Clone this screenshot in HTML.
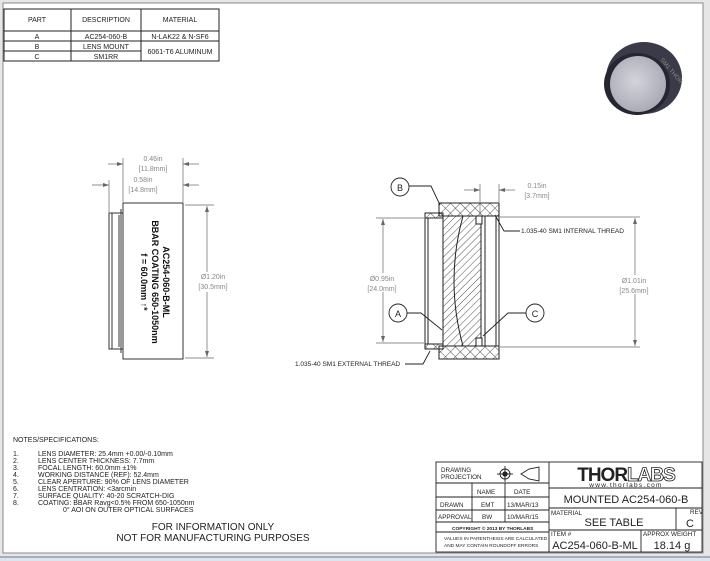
<!DOCTYPE html>
<html><head><meta charset="utf-8"><style>
html,body{margin:0;padding:0;background:#fff}
svg{display:block}
text{font-family:"Liberation Sans",sans-serif}
</style></head><body>
<svg width="710" height="561" viewBox="0 0 710 561" xmlns="http://www.w3.org/2000/svg">
<defs>
<pattern id="h" width="5" height="5" patternUnits="userSpaceOnUse" patternTransform="rotate(45)"><line x1="0" y1="0" x2="0" y2="5" stroke="#222" stroke-width="0.8"/></pattern>
<pattern id="x" width="7" height="7" patternUnits="userSpaceOnUse" patternTransform="rotate(45)"><line x1="0" y1="0" x2="0" y2="7" stroke="#222" stroke-width="0.8"/><line x1="0" y1="0" x2="7" y2="0" stroke="#222" stroke-width="0.8"/></pattern>
<radialGradient id="g" cx="0.45" cy="0.45" r="0.6"><stop offset="0" stop-color="#d4d4dc"/><stop offset="1" stop-color="#a8a8b4"/></radialGradient>
</defs>
<rect x="0" y="0" width="710" height="561" fill="#e6e6e6"/>
<rect x="3" y="3" width="700" height="550" fill="#fff" stroke="#888" stroke-width="1"/>
<rect x="0" y="556" width="710" height="5" fill="#dfe4ec"/>
<line x1="0" y1="557" x2="710" y2="557" stroke="#6a7a90"/>

<!-- parts table -->
<g stroke="#222" stroke-width="1" fill="none">
<rect x="4" y="9" width="215" height="52"/>
<line x1="4" y1="31" x2="219" y2="31"/><line x1="4" y1="41" x2="219" y2="41"/>
<line x1="4" y1="51" x2="141" y2="51"/>
<line x1="71" y1="9" x2="71" y2="61"/><line x1="141" y1="9" x2="141" y2="61"/>
</g>
<g font-size="7" fill="#222" text-anchor="middle">
<text x="37" y="22">PART</text><text x="106" y="22">DESCRIPTION</text><text x="180" y="22">MATERIAL</text>
<text x="37" y="39">A</text><text x="106" y="39">AC254-060-B</text><text x="180" y="39">N-LAK22 &amp; N-SF6</text>
<text x="37" y="49">B</text><text x="106" y="49">LENS MOUNT</text><text x="180" y="54">6061-T6 ALUMINUM</text>
<text x="37" y="59">C</text><text x="106" y="59">SM1RR</text>
</g>

<!-- iso render -->
<g>
<ellipse cx="644" cy="78" rx="38" ry="36" fill="#3a3a48"/>
<ellipse cx="637" cy="84" rx="33" ry="31" fill="#262632"/>
<ellipse cx="638" cy="84" rx="28" ry="28" fill="url(#g)"/>
<text x="660" y="60" font-size="6" fill="#888" transform="rotate(50 660 60)">SM1 THOR</text>
</g>

<!-- left side view -->
<g stroke="#333" stroke-width="1" fill="none">
<rect x="123" y="203" width="60" height="156"/>
<rect x="109" y="213" width="14" height="136"/>
<line x1="112" y1="213" x2="112" y2="349"/><line x1="119" y1="215" x2="119" y2="347"/>
<line x1="121" y1="209" x2="121" y2="353"/>
</g>
<g font-size="9" font-weight="bold" fill="#111" text-anchor="middle">
<text transform="translate(163,282) rotate(90)">AC254-060-B-ML</text>
<text transform="translate(152,282) rotate(90)">BBAR COATING 650-1050nm</text>
<text transform="translate(141,282) rotate(90)">f = 60.0mm ↑*</text>
</g>
<g stroke="#666" stroke-width="0.7" fill="none">
<line x1="123" y1="158" x2="123" y2="202"/><line x1="183" y1="158" x2="183" y2="202"/>
<line x1="109" y1="180" x2="109" y2="212"/>
<line x1="108" y1="164" x2="123" y2="164"/><line x1="183" y1="164" x2="199" y2="164"/>
<line x1="92" y1="185" x2="109" y2="185"/><line x1="183" y1="185" x2="199" y2="185"/>
<line x1="185" y1="205" x2="214" y2="205"/><line x1="185" y1="358" x2="214" y2="358"/>
<line x1="207" y1="206" x2="207" y2="272"/><line x1="207" y1="292" x2="207" y2="357"/>
</g>
<g fill="#666"><path d="M123 164 l-6 -2 v4z"/><path d="M183 164 l6 -2 v4z"/><path d="M109 185 l-6 -2 v4z"/><path d="M183 185 l6 -2 v4z"/><path d="M207 206 l-2 6 h4z"/><path d="M207 357 l-2 -6 h4z"/></g>
<g font-size="7" fill="#888" text-anchor="middle">
<text x="153" y="161">0.46in</text><text x="153" y="171">[11.8mm]</text>
<text x="143" y="182">0.58in</text><text x="143" y="192">[14.8mm]</text>
<text x="213" y="279">Ø1.20in</text><text x="213" y="289">[30.5mm]</text>
</g>

<!-- section view -->
<g stroke="#222" stroke-width="1">
<rect x="439" y="203" width="60" height="13" fill="url(#x)"/>
<rect x="439" y="346" width="60" height="13" fill="url(#x)"/>
<rect x="425" y="213" width="18" height="5" fill="url(#x)"/>
<rect x="425" y="344" width="18" height="5" fill="url(#x)"/>
<rect x="443" y="216" width="38" height="130" fill="url(#h)"/>
<rect x="476" y="216" width="6" height="8" fill="#fff"/><rect x="476" y="338" width="6" height="8" fill="#fff"/>
<path d="M463 216 Q445 281 463 346" fill="none"/>
<line x1="425" y1="213" x2="425" y2="349" fill="none"/>
<line x1="428" y1="218" x2="428" y2="344" fill="none"/>
<line x1="485" y1="216" x2="485" y2="346" fill="none"/>
<line x1="496" y1="216" x2="496" y2="346" fill="none"/>
<line x1="499" y1="216" x2="499" y2="346" fill="none"/>
<line x1="428" y1="218" x2="443" y2="218"/><line x1="428" y1="344" x2="443" y2="344"/>
</g>
<g stroke="#666" stroke-width="0.7" fill="none">
<line x1="480" y1="184" x2="480" y2="215"/><line x1="499" y1="184" x2="499" y2="202"/>
<line x1="464" y1="190" x2="480" y2="190"/><line x1="499" y1="190" x2="515" y2="190"/>
<line x1="376" y1="218" x2="424" y2="218"/><line x1="376" y1="343" x2="424" y2="343"/>
<line x1="383" y1="219" x2="383" y2="273"/><line x1="383" y1="292" x2="383" y2="342"/>
<line x1="500" y1="217" x2="640" y2="217"/><line x1="500" y1="347" x2="640" y2="347"/>
<line x1="635" y1="218" x2="635" y2="275"/><line x1="635" y1="294" x2="635" y2="346"/>
</g>
<g fill="#666"><path d="M480 190 l-6 -2 v4z"/><path d="M499 190 l6 -2 v4z"/><path d="M383 219 l-2 6 h4z"/><path d="M383 342 l-2 -6 h4z"/><path d="M635 218 l-2 6 h4z"/><path d="M635 346 l-2 -6 h4z"/></g>
<g font-size="7" fill="#888" text-anchor="middle">
<text x="537" y="188">0.15in</text><text x="537" y="198">[3.7mm]</text>
<text x="382" y="281">Ø0.95in</text><text x="382" y="291">[24.0mm]</text>
<text x="634" y="283">Ø1.01in</text><text x="634" y="293">[25.6mm]</text>
</g>
<g stroke="#222" stroke-width="0.9" fill="#fff">
<circle cx="400" cy="187" r="9"/><circle cx="398" cy="313" r="9"/><circle cx="535" cy="313" r="9"/>
</g>
<g stroke="#222" stroke-width="0.9" fill="none">
<polyline points="409,186 431,186 440,205"/>
<polyline points="407,313 421,313 442,330"/>
<polyline points="526,313 508,313 483,336"/>
<polyline points="495,215 504,231 520,231"/>
<polyline points="405,364 423,364 430,351"/>
</g>
<g font-size="9" fill="#222" text-anchor="middle"><text x="400" y="191">B</text><text x="398" y="317">A</text><text x="535" y="317">C</text></g>
<g font-size="6.5" fill="#222"><text x="521" y="233">1.035-40 SM1 INTERNAL THREAD</text><text x="295" y="366">1.035-40 SM1 EXTERNAL THREAD</text></g>

<!-- notes -->
<g font-size="7" fill="#222">
<text x="13" y="442">NOTES/SPECIFICATIONS:</text>
<text x="13" y="456">1.</text><text x="38" y="456">LENS DIAMETER: 25.4mm +0.00/-0.10mm</text>
<text x="13" y="463">2.</text><text x="38" y="463">LENS CENTER THICKNESS: 7.7mm</text>
<text x="13" y="470">3.</text><text x="38" y="470">FOCAL LENGTH: 60.0mm ±1%</text>
<text x="13" y="477">4.</text><text x="38" y="477">WORKING DISTANCE (REF): 52.4mm</text>
<text x="13" y="484">5.</text><text x="38" y="484">CLEAR APERTURE: 90% OF LENS DIAMETER</text>
<text x="13" y="491">6.</text><text x="38" y="491">LENS CENTRATION: &lt;3arcmin</text>
<text x="13" y="498">7.</text><text x="38" y="498">SURFACE QUALITY: 40-20 SCRATCH-DIG</text>
<text x="13" y="505">8.</text><text x="38" y="505">COATING: BBAR Ravg&lt;0.5% FROM 650-1050nm</text>
<text x="63" y="512">0° AOI ON OUTER OPTICAL SURFACES</text>
</g>
<g font-size="10" fill="#222" text-anchor="middle"><text x="213" y="530">FOR INFORMATION ONLY</text><text x="213" y="541">NOT FOR MANUFACTURING PURPOSES</text></g>

<!-- title block -->
<g stroke="#222" stroke-width="0.9" fill="none">
<rect x="436" y="462" width="266" height="90"/>
<line x1="549" y1="462" x2="549" y2="552"/>
<line x1="436" y1="483" x2="549" y2="483"/><line x1="436" y1="497" x2="549" y2="497"/>
<line x1="436" y1="510" x2="549" y2="510"/><line x1="436" y1="522" x2="549" y2="522"/>
<line x1="436" y1="532" x2="549" y2="532"/>
<line x1="472" y1="483" x2="472" y2="522"/><line x1="505" y1="483" x2="505" y2="522"/>
<line x1="549" y1="488" x2="702" y2="488"/><line x1="549" y1="508" x2="702" y2="508"/><line x1="549" y1="530" x2="702" y2="530"/>
<line x1="676" y1="508" x2="676" y2="530"/><line x1="641" y1="530" x2="641" y2="552"/>
<circle cx="505" cy="474" r="5"/><circle cx="505" cy="474" r="2.2" fill="#222"/>
<line x1="497" y1="474" x2="513" y2="474"/><line x1="505" y1="466" x2="505" y2="482"/>
<path d="M521 474 L529 469 L539 467 L539 481 L529 479 Z"/>
</g>
<g font-size="6.3" fill="#222">
<text x="441" y="472">DRAWING</text><text x="441" y="479">PROJECTION</text>
<text x="477" y="494">NAME</text><text x="514" y="494">DATE</text>
<text x="440" y="507">DRAWN</text><text x="481" y="507">EMT</text><text x="507" y="507">13/MAR/13</text>
<text x="438" y="519">APPROVAL</text><text x="482" y="519">BW</text><text x="507" y="519">10/MAR/15</text>
<text x="452" y="530" font-size="4.8" font-weight="bold">COPYRIGHT © 2013 BY THORLABS</text>
<text x="444" y="540" font-size="4.8">VALUES IN PARENTHESIS ARE CALCULATED</text>
<text x="444" y="547" font-size="4.8">AND MAY CONTAIN ROUNDOFF ERRORS</text>
<text x="551" y="515">MATERIAL</text><text x="690" y="514">REV</text>
<text x="551" y="536">ITEM #</text><text x="643" y="536">APPROX WEIGHT</text>
</g>
<text x="626" y="481" font-size="19" font-weight="bold" fill="#222" text-anchor="middle" letter-spacing="-1">THOR<tspan fill="#fff" stroke="#222" stroke-width="0.8">LABS</tspan></text>
<text x="626" y="487" font-size="6.5" fill="#222" text-anchor="middle" letter-spacing="1.3">www.thorlabs.com</text>
<g fill="#222" text-anchor="middle">
<text x="626" y="503" font-size="11">MOUNTED AC254-060-B</text>
<text x="614" y="526" font-size="11">SEE TABLE</text>
<text x="690" y="527" font-size="11">C</text>
<text x="595" y="549" font-size="11">AC254-060-B-ML</text>
<text x="672" y="549" font-size="11">18.14 g</text>
</g>
</svg>
</body></html>
